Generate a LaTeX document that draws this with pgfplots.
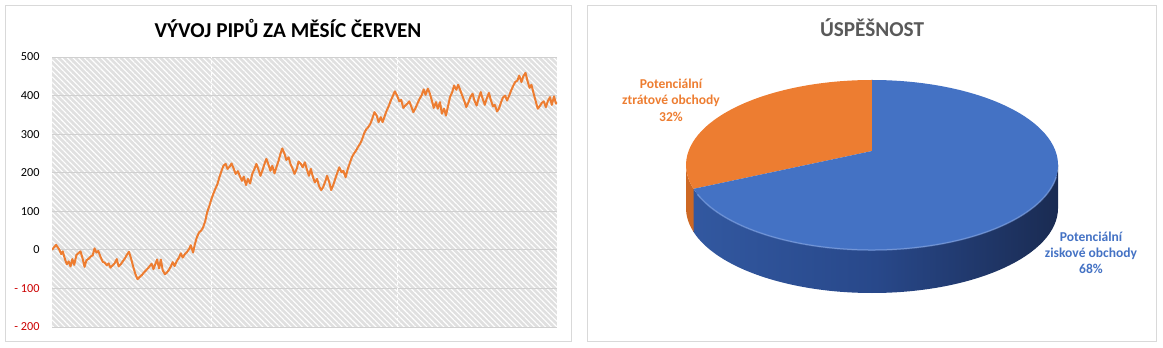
\documentclass[border=0pt]{standalone}
\usepackage{pgfplots}
\pgfplotsset{compat=1.18}
\usepackage{fontspec}
\setmainfont{Carlito}
\usetikzlibrary{patterns.meta}
\definecolor{exorange}{RGB}{237,125,49}
\definecolor{exblue}{RGB}{68,114,196}
\definecolor{negred}{RGB}{204,0,0}
\definecolor{gridgray}{RGB}{208,208,208}
\definecolor{bggray}{RGB}{224,224,224}
\definecolor{bordergray}{RGB}{217,217,217}
\definecolor{titlegray}{RGB}{89,89,89}
\definecolor{sideL}{RGB}{50,88,160}
\definecolor{sideM}{RGB}{40,72,138}
\definecolor{sideR}{RGB}{26,43,82}
\definecolor{orside}{RGB}{205,104,36}
\newcommand{\ziskove}{68}
\newcommand{\ztratove}{32}
\pgfplotstableread{
x y
141 0
152 13
160 2
166 -11
170 -4
176 -24
181 -37
186 -30
191 -43
196 -24
201 -39
207 -13
212 -9
218 -4
223 -20
229 -44
234 -27
240 -23
246 -17
251 -14
256 4
261 -7
266 -3
272 -18
278 -31
283 -33
289 -40
294 -35
299 -46
305 -40
310 -35
316 -24
321 -43
327 -37
332 -30
338 -22
343 -13
349 -5
355 -24
361 -46
366 -62
372 -76
378 -70
384 -65
389 -59
395 -53
400 -48
405 -42
410 -36
415 -50
420 -37
425 -25
430 -48
435 -25
440 -53
446 -63
451 -59
456 -53
462 -43
467 -32
472 -42
478 -29
484 -20
489 -9
494 -20
500 -11
506 -5
511 2
516 12
522 -7
527 15
532 32
538 45
544 50
549 58
555 75
560 97
566 114
571 130
577 146
582 158
588 171
593 188
599 205
604 218
610 223
615 210
621 216
626 224
632 210
637 197
643 204
648 192
654 179
659 190
665 168
670 184
676 172
682 197
688 210
693 223
698 210
704 192
709 205
715 223
720 236
725 223
731 205
736 218
742 198
747 214
753 231
758 249
763 263
769 249
774 233
780 240
785 223
791 210
796 197
802 210
807 229
813 223
818 214
824 227
829 210
835 192
840 210
846 188
851 175
857 184
862 166
868 155
873 162
879 177
884 192
890 175
895 155
901 169
906 184
912 201
917 214
923 201
928 205
934 188
940 210
945 224
951 240
956 249
962 257
967 266
973 275
978 285
984 302
990 313
995 318
1001 327
1006 340
1012 357
1018 348
1023 331
1029 344
1034 331
1040 348
1045 361
1051 374
1056 387
1062 400
1067 411
1073 400
1079 385
1084 389
1090 368
1095 374
1101 379
1106 385
1112 370
1117 357
1123 368
1128 379
1134 392
1139 400
1145 416
1150 402
1156 418
1161 407
1167 387
1172 368
1178 383
1183 366
1189 383
1194 353
1200 366
1205 348
1211 374
1216 396
1222 409
1227 426
1233 415
1238 428
1244 413
1249 400
1255 385
1260 370
1266 383
1271 396
1277 405
1282 387
1288 374
1293 392
1299 409
1304 392
1310 376
1315 392
1321 407
1326 389
1332 372
1337 376
1343 359
1348 366
1354 383
1359 395
1365 400
1370 387
1376 400
1381 413
1387 426
1392 435
1398 439
1403 452
1409 435
1414 450
1420 459
1425 439
1431 420
1436 428
1442 405
1447 387
1453 366
1458 372
1464 381
1469 385
1475 370
1480 385
1486 396
1491 376
1497 398
1502 379
1505 383
}\pipy
% slice boundary angle (true angle), then perspective-mapped onto the drawn ellipse
\pgfmathsetmacro{\tang}{90+3.6*\ztratove}
\pgfmathsetmacro{\pa}{14/85}
\pgfmathsetmacro{\ppx}{sqrt(1-\pa*\pa)*cos(\tang)/(1+\pa*sin(\tang))}
\pgfmathsetmacro{\ppy}{(sin(\tang)+\pa)/(1+\pa*sin(\tang))}
\pgfmathsetmacro{\ang}{mod(atan2(\ppy,\ppx)+360,360)}
\begin{document}
\begin{tikzpicture}[x=1bp,y=1bp]
\path[use as bounding box] (0,0) rectangle (1163,347);
\draw[bordergray, line width=1bp] (5.5,5.5) rectangle (571,341);
\draw[bordergray, line width=1bp] (587,5.5) rectangle (1156,341);
\node[font=\bfseries\fontsize{21.3}{24}\selectfont, text=black] at (288,319) {VÝVOJ PIPŮ ZA MĚSÍC ČERVEN};
\node[font=\bfseries\fontsize{21.3}{24}\selectfont, text=titlegray] at (872,319) {ÚSPĚŠNOST};
\begin{axis}[
  at={(52bp,20bp)}, anchor=south west, scale only axis,
  width=505bp, height=270bp,
  xmin=141, xmax=1505, ymin=-200, ymax=500,
  axis line style={draw=none},
  axis background/.style={fill=bggray, postaction={pattern={Lines[angle=-45,distance=4bp,line width=1.1bp]}, pattern color=white}},
  ytick={-200,-100,0,100,200,300,400,500},
  yticklabels={\textcolor{negred}{- 200},\textcolor{negred}{- 100},0,100,200,300,400,500},
  ytick style={draw=none},
  ticklabel style={font=\fontsize{12.3}{14}\selectfont},
  yticklabel style={xshift=-9bp},
  ymajorgrids, major grid style={gridgray, line width=0.8bp},
  xtick=\empty,
  extra x ticks={571,1075}, extra x tick labels={},
  extra x tick style={grid=major, major grid style={white, dashed, line width=1bp}, major tick length=0pt},
]
\addplot[exorange, line width=2bp, line join=round] table[x=x,y=y] {\pipy};
\end{axis}
\begin{axis}[
  at={(0,0)}, anchor=south west, scale only axis,
  width=1163bp, height=347bp,
  xmin=0, xmax=1163, ymin=0, ymax=347,
  hide axis, clip=false,
]
\coordinate (C) at (axis cs:872,182);
\coordinate (V) at (axis cs:872,196);
\shade[left color=sideL, right color=sideR, middle color=sideM]
  ([shift={(C)}]\ang:186bp and 85bp) arc[start angle=\ang, end angle=360, x radius=186bp, y radius=85bp]
  -- ++(0,-43bp) arc[start angle=360, end angle=\ang, x radius=186bp, y radius=85bp] -- cycle;
\fill[orside]
  ([shift={(C)}]180:186bp and 85bp) arc[start angle=180, end angle=\ang, x radius=186bp, y radius=85bp]
  -- ++(0,-43bp) arc[start angle=\ang, end angle=180, x radius=186bp, y radius=85bp] -- cycle;
\fill[exorange] (V) -- ([shift={(C)}]90:186bp and 85bp) arc[start angle=90, end angle=\ang, x radius=186bp, y radius=85bp] -- cycle;
\fill[exblue] (V) -- ([shift={(C)}]\ang:186bp and 85bp) arc[start angle=\ang, end angle=450, x radius=186bp, y radius=85bp] -- cycle;
\draw[line width=1.5bp, color={rgb,255:red,125;green,160;blue,225}, opacity=0.6]
  ([shift={(C)}]\ang+4:186bp and 85bp) arc[start angle=\ang+4, end angle=352, x radius=186bp, y radius=85bp];
\node[align=center, text=exorange, font=\bfseries\fontsize{13.6}{16.5}\selectfont] at (axis cs:671,247) {Potenciální\\ztrátové obchody\\\ztratove\%};
\node[align=center, text=exblue, font=\bfseries\fontsize{13.6}{16}\selectfont] at (axis cs:1091,94) {Potenciální\\ziskové obchody\\\ziskove\%};
\end{axis}
\end{tikzpicture}
\end{document}
